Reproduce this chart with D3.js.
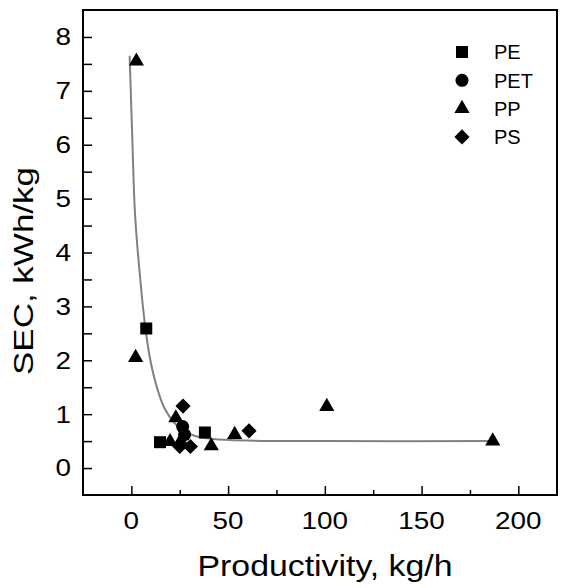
<!DOCTYPE html>
<html>
<head>
<meta charset="utf-8">
<script src="https://cdn.jsdelivr.net/npm/d3@7"></script>
<style>
  body { margin: 0; background: #fff; }
  text { font-family: Arial, "Liberation Sans", sans-serif; fill: #000; }
</style>
</head>
<body>
<div id="chart"></div>
<script>
// values (productivity kg/h, SEC kWh/kg)
const peProd = [7.7, 14.8, 38.0];
const peSec = [2.59, 0.48, 0.66];
const petProd = [26.5, 27.5];
const petSec = [0.77, 0.62];
const ppProd = [2.6, 2.2, 20.0, 23.0, 25.5, 41.3, 53.4, 101.0, 186.8];
const ppSec = [7.55, 2.05, 0.49, 0.93, 0.50, 0.41, 0.62, 1.14, 0.50];
const psProd = [26.7, 25.0, 30.5, 60.8];
const psSec = [1.15, 0.40, 0.40, 0.69];

// fitted curve
const fitProd = [-0.9, 0.5, 1.7, 3.0, 4.3, 5.9, 7.6, 10.1, 13.6, 17.0, 22.2, 27.4, 33.4, 42, 60, 100, 188];
const fitSec = [7.65, 6.1, 4.85, 4.15, 3.62, 3.02, 2.5, 1.95, 1.45, 1.12, 0.84, 0.68, 0.59, 0.54, 0.51, 0.5, 0.5];

const xTicks = [0, 50, 100, 150, 200];
const xMinor = [25, 75, 125, 175];
const yTicks = [0, 1, 2, 3, 4, 5, 6, 7, 8];
const yMinor = [0.5, 1.5, 2.5, 3.5, 4.5, 5.5, 6.5, 7.5];
const seriesNames = ["PE", "PET", "PP", "PS"];

const width = 565, height = 588;
const plot = {left: 83, right: 557, top: 10, bottom: 495};

const svg = d3.select("#chart")
    .append("svg")
    .attr("width", width)
    .attr("height", height);

const x = d3.scaleLinear().domain([-25, 220]).range([plot.left, plot.right]);
const y = d3.scaleLinear().domain([-0.5, 8.5]).range([plot.bottom, plot.top]);

// ticks (inward)
svg.append("g")
    .attr("transform", `translate(0,${plot.bottom})`)
    .call(d3.axisTop(x).tickValues(xTicks).tickSize(9).tickFormat(""))
    .call(g => g.select(".domain").remove())
    .selectAll("line").attr("stroke-width", 1.5);
svg.append("g")
    .attr("transform", `translate(0,${plot.bottom})`)
    .call(d3.axisTop(x).tickValues(xMinor).tickSize(5).tickFormat(""))
    .call(g => g.select(".domain").remove())
    .selectAll("line").attr("stroke-width", 1.5);
svg.append("g")
    .attr("transform", `translate(${plot.left},0)`)
    .call(d3.axisRight(y).tickValues(yTicks.concat(yMinor)).tickSize(9).tickFormat(""))
    .call(g => g.select(".domain").remove())
    .selectAll("line").attr("stroke-width", 1.5);

// tick labels
svg.selectAll(".xlab")
    .data(xTicks)
    .enter().append("text")
    .attr("x", d => x(d))
    .attr("y", 529)
    .attr("text-anchor", "middle")
    .attr("textLength", d => String(d).length * 15.5)
    .attr("lengthAdjust", "spacingAndGlyphs")
    .style("font-size", "24px")
    .text(d => d);

svg.selectAll(".ylab")
    .data(yTicks)
    .enter().append("text")
    .attr("x", 71)
    .attr("y", d => y(d))
    .attr("dy", "0.35em")
    .attr("text-anchor", "end")
    .attr("textLength", 15.5)
    .attr("lengthAdjust", "spacingAndGlyphs")
    .style("font-size", "24px")
    .text(d => d);

// frame
svg.append("rect")
    .attr("x", plot.left)
    .attr("y", plot.top)
    .attr("width", plot.right - plot.left)
    .attr("height", plot.bottom - plot.top)
    .attr("fill", "none")
    .attr("stroke", "#000")
    .attr("stroke-width", 2);

// fit curve
const line = d3.line()
    .x(d => x(d[0]))
    .y(d => y(d[1]))
    .curve(d3.curveCatmullRom.alpha(0.5));
svg.append("path")
    .attr("d", line(fitProd.map((p, i) => [p, fitSec[i]])))
    .attr("fill", "none")
    .attr("stroke", "#808080")
    .attr("stroke-width", 2);

// markers
const shapes = {
    PE: {sym: d3.symbolSquare, size: 144, rot: 0},
    PET: {sym: d3.symbolCircle, size: 133, rot: 0},
    PP: {sym: d3.symbolTriangle, size: 100, rot: 0},
    PS: {sym: d3.symbolSquare, size: 115, rot: 45}
};
const series = [
    {name: "PE", xs: peProd, ys: peSec},
    {name: "PET", xs: petProd, ys: petSec},
    {name: "PP", xs: ppProd, ys: ppSec},
    {name: "PS", xs: psProd, ys: psSec}
];

series.forEach(function(s) {
    const sh = shapes[s.name];
    svg.selectAll(".m" + s.name)
        .data(s.xs.map((v, i) => [v, s.ys[i]]))
        .enter().append("path")
        .attr("d", d3.symbol().type(sh.sym).size(sh.size))
        .attr("transform", d => `translate(${x(d[0])},${y(d[1])}) rotate(${sh.rot})`)
        .attr("fill", "#000");
});

// legend
const legend = svg.append("g");
seriesNames.forEach(function(name, i) {
    const sh = shapes[name];
    const ly = 52 + i * 28.3;
    legend.append("path")
        .attr("d", d3.symbol().type(sh.sym).size(sh.size))
        .attr("transform", `translate(462,${ly}) rotate(${sh.rot})`)
        .attr("fill", "#000");
    legend.append("text")
        .attr("x", 494)
        .attr("y", ly)
        .attr("dy", "0.36em")
        .style("font-size", "20px")
        .text(name);
});

// axis titles
svg.append("text")
    .attr("x", 325)
    .attr("y", 576)
    .attr("text-anchor", "middle")
    .attr("textLength", 255)
    .attr("lengthAdjust", "spacingAndGlyphs")
    .style("font-size", "29px")
    .text("Productivity, kg/h");

svg.append("text")
    .attr("transform", "translate(33,271) rotate(-90)")
    .attr("text-anchor", "middle")
    .attr("textLength", 208)
    .attr("lengthAdjust", "spacingAndGlyphs")
    .style("font-size", "28px")
    .text("SEC, kWh/kg");
</script>
</body>
</html>
